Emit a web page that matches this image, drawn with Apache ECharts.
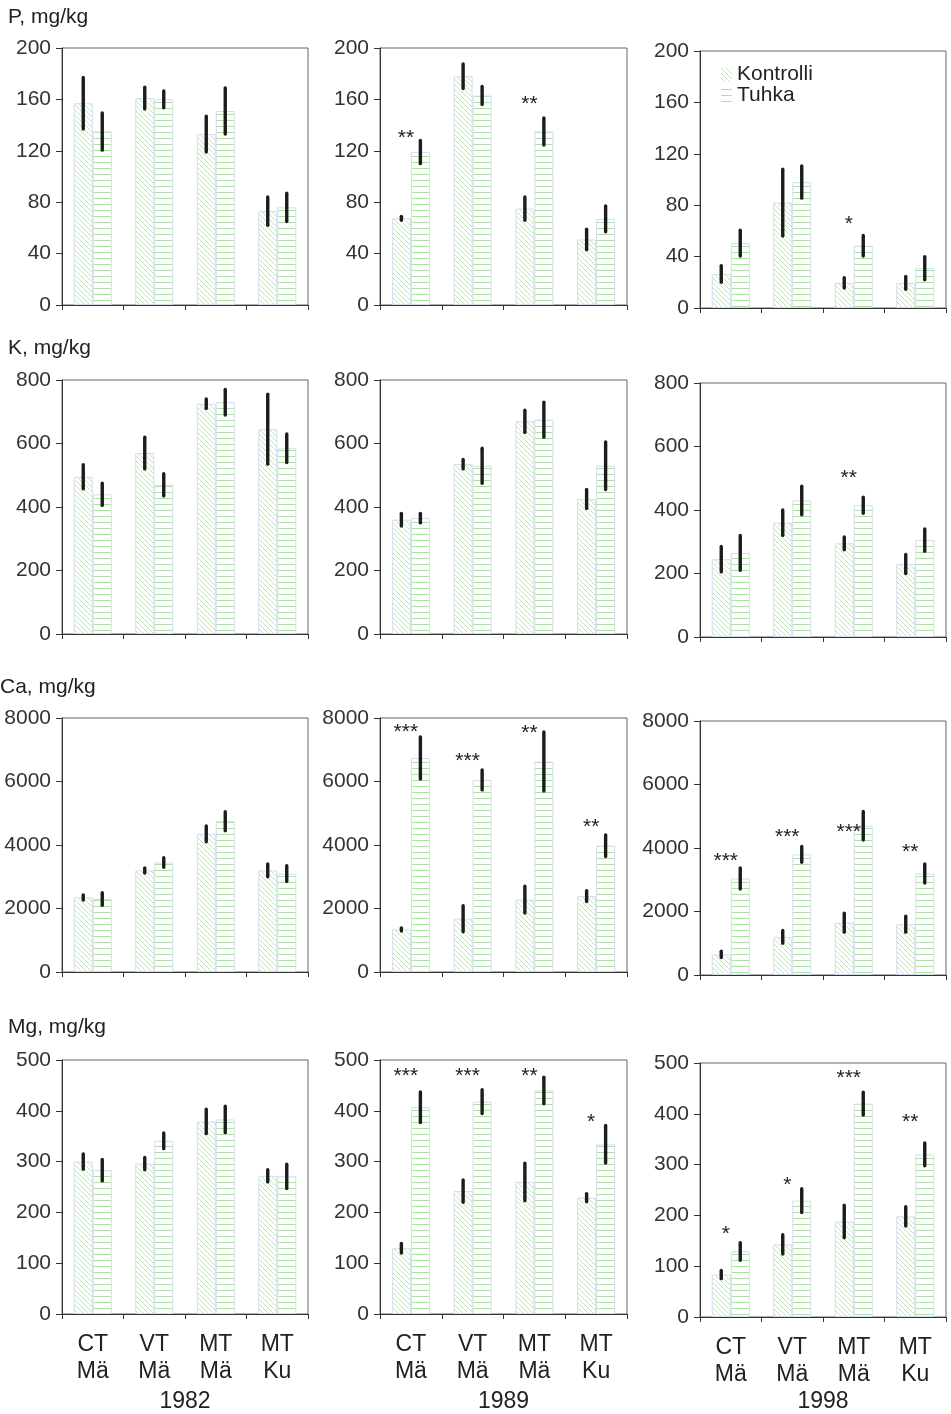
<!DOCTYPE html>
<html>
<head>
<meta charset="utf-8">
<script src="https://cdn.jsdelivr.net/npm/echarts/dist/echarts.min.js"></script>
<style>
  html, body { margin: 0; padding: 0; background: #fff; }
  #chart { width: 951px; height: 1414px; }
</style>
</head>
<body>
<div id="chart"></div>
<script>
// Soil nutrient concentrations (mg/kg), control vs. ash-treated plots, three sampling years.
const categories = ['CT\nMä', 'VT\nMä', 'MT\nMä', 'MT\nKu'];
const years = ['1982', '1989', '1998'];

// Phosphorus: one row per year (1982, 1989, 1998)
const pKontrolli    = [[157, 161, 133, 73], [67.5, 178, 75, 51], [26.5, 82, 19.5, 19.5]];
const pKontrolliErr = [[20, 8.5, 14, 11], [1.5, 9.5, 9, 8], [6.5, 26, 4, 5]];
const pTuhka        = [[135, 160, 151, 76], [119, 163, 135, 67], [50.5, 98, 48.5, 31]];
const pTuhkaErr     = [[14.5, 6.5, 18, 11], [9, 7, 10.5, 10], [10, 12.5, 8, 9]];
const pStars        = [['', '', '', ''], ['**', '', '**', ''], ['', '', '*', '']];
const pStarLevel    = [[0, 0, 0, 0], [134, 0, 160, 0], [0, 0, 69, 0]];

// Potassium
const kKontrolli    = [[495, 570, 725, 645], [360, 535, 670, 425], [245, 360, 295, 230]];
const kKontrolliErr = [[38, 50, 15, 110], [20, 15, 35, 30], [40, 40, 20, 30]];
const kTuhka        = [[440, 470, 730, 585], [365, 530, 675, 530], [265, 430, 415, 305]];
const kTuhkaErr     = [[35, 35, 40, 45], [15, 55, 55, 75], [55, 45, 25, 35]];
const kStars        = [['', '', '', ''], ['', '', '', ''], ['', '', '**', '']];
const kStarLevel    = [[0, 0, 0, 0], [0, 0, 0, 0], [0, 0, 516, 0]];

// Calcium
const caKontrolli    = [[2350, 3200, 4350, 3200], [1340, 1680, 2280, 2390], [650, 1200, 1650, 1600]];
const caKontrolliErr = [[80, 80, 250, 200], [50, 410, 425, 170], [100, 200, 300, 250]];
const caTuhka        = [[2300, 3450, 4750, 3100], [6740, 6050, 6630, 3980], [3040, 3800, 4700, 3200]];
const caTuhkaErr     = [[200, 150, 300, 250], [665, 315, 930, 340], [330, 250, 450, 300]];
const caStars        = [['', '', '', ''], ['***', '***', '**', '**'], ['***', '***', '***', '**']];
const caStarLevel    = [[0, 0, 0, 0], [7700, 6790, 7670, 4720], [3730, 4510, 4640, 4010]];

// Magnesium
const mgKontrolli    = [[300, 296, 379, 272], [129.5, 242, 260, 229], [83.5, 143, 188, 198]];
const mgKontrolliErr = [[15, 12, 24, 12], [9.5, 22, 37, 8], [8, 19, 32, 19]];
const mgTuhka        = [[283, 341, 383, 271], [407, 418, 440, 334], [129, 229, 420, 320]];
const mgTuhkaErr     = [[21, 15.5, 26, 24], [30, 23.5, 26, 37], [17.5, 23.5, 22.5, 22.5]];
const mgStars        = [['', '', '', ''], ['***', '***', '**', '*'], ['*', '*', '***', '**']];
const mgStarLevel    = [[0, 0, 0, 0], [477, 477, 477, 387], [172, 269, 479, 393]];

const rows = [
  { title: 'P, mg/kg',  max: 200,  step: 40,   km: pKontrolli,  ke: pKontrolliErr,  tm: pTuhka,  te: pTuhkaErr,  st: pStars,  sl: pStarLevel },
  { title: 'K, mg/kg',  max: 800,  step: 200,  km: kKontrolli,  ke: kKontrolliErr,  tm: kTuhka,  te: kTuhkaErr,  st: kStars,  sl: kStarLevel },
  { title: 'Ca, mg/kg', max: 8000, step: 2000, km: caKontrolli, ke: caKontrolliErr, tm: caTuhka, te: caTuhkaErr, st: caStars, sl: caStarLevel },
  { title: 'Mg, mg/kg', max: 500,  step: 100,  km: mgKontrolli, ke: mgKontrolliErr, tm: mgTuhka, te: mgTuhkaErr, st: mgStars, sl: mgStarLevel }
];

// Layout of the 4 x 3 panel matrix (pixels)
const FONT = '"Liberation Sans", Arial, Helvetica, sans-serif';
const colLeft = [62, 380, 700];
const colWidth = [246, 247, 246];
const colShift = [0, 0, 3];
const rowTop = [48, 380, 718, 1060];
const rowBottom = [305, 634, 972, 1319];
const titleTop = [7, 338, 677, 1017];
const titleLeft = [8, 8, 0, 8];
const BAR_W = 19;

// Hatch fills: diagonal for control, horizontal for ash
function makeHatch(kind) {
  const c = document.createElement('canvas');
  const ctx = c.getContext('2d');
  if (kind === 'diag') {
    const s = 5;
    c.width = s; c.height = s;
    ctx.fillStyle = '#ffffff';
    ctx.fillRect(0, 0, s, s);
    ctx.strokeStyle = '#bfe6b6';
    ctx.lineWidth = 1;
    for (let k = -1; k <= 1; k++) {
      ctx.beginPath();
      ctx.moveTo(-s, -s + k * s);
      ctx.lineTo(2 * s, 2 * s + k * s);
      ctx.stroke();
    }
  } else {
    c.width = 4; c.height = 6;
    ctx.fillStyle = '#ffffff';
    ctx.fillRect(0, 0, 4, 6);
    ctx.fillStyle = '#ace0a4';
    ctx.fillRect(0, 0, 4, 1);
  }
  return { image: c, repeat: 'repeat' };
}
const diagFill = makeHatch('diag');
const horizFill = makeHatch('horiz');

function renderErrorBars(params, api) {
  const i = api.value(0);
  const children = [];
  [[1, 2, -1], [3, 4, 1]].forEach(function (d) {
    const m = api.value(d[0]);
    const e = api.value(d[1]);
    const x = api.coord([i, m])[0] + d[2] * BAR_W / 2;
    const y1 = api.coord([i, m + e])[1];
    const y2 = api.coord([i, m - e])[1];
    children.push({
      type: 'line',
      shape: { x1: x, y1: y1, x2: x, y2: y2 },
      style: { stroke: '#1c1c1c', lineWidth: 3.4, lineCap: 'round' }
    });
  });
  return { type: 'group', children: children };
}

const grids = [], xAxes = [], yAxes = [], series = [], titles = [];

rows.forEach(function (row, r) {
  titles.push({
    text: row.title, left: titleLeft[r], top: titleTop[r], padding: 0,
    textStyle: { fontFamily: FONT, fontSize: 21, fontWeight: 'normal', color: '#222' }
  });
  for (let c = 0; c < 3; c++) {
    const g = grids.length;
    const top = rowTop[r] + colShift[c];
    const bottom = rowBottom[r] + colShift[c];
    grids.push({
      left: colLeft[c], top: top, width: colWidth[c], height: bottom - top,
      show: true, borderColor: '#666', borderWidth: 1, backgroundColor: 'transparent'
    });
    const lastRow = r === rows.length - 1;
    xAxes.push({
      type: 'category', gridIndex: g, data: categories,
      axisLine: { lineStyle: { color: '#333', width: 1 } },
      axisTick: { show: true, length: 5, lineStyle: { color: '#333' } },
      axisLabel: {
        show: lastRow, interval: 0, margin: 17,
        fontFamily: FONT, fontSize: 23, lineHeight: 27, color: '#222'
      },
      name: lastRow ? years[c] : '',
      nameLocation: 'middle', nameGap: 76 - colShift[c],
      nameTextStyle: { fontFamily: FONT, fontSize: 23, color: '#222' }
    });
    yAxes.push({
      type: 'value', gridIndex: g, min: 0, max: row.max, interval: row.step,
      axisLine: { show: true, lineStyle: { color: '#333', width: 1 } },
      axisTick: { show: true, length: 6, lineStyle: { color: '#333' } },
      splitLine: { show: false },
      axisLabel: {
        margin: 11, fontFamily: FONT, fontSize: 21, color: '#333',
        formatter: function (v) { return String(v); }
      }
    });
    series.push({
      type: 'bar', name: 'Kontrolli', xAxisIndex: g, yAxisIndex: g,
      data: row.km[c], barWidth: BAR_W, barGap: '0%', silent: true,
      itemStyle: { color: diagFill, borderColor: '#d5dcec', borderWidth: 1 }
    });
    series.push({
      type: 'bar', name: 'Tuhka', xAxisIndex: g, yAxisIndex: g,
      data: row.tm[c], barWidth: BAR_W, barGap: '0%', silent: true,
      itemStyle: { color: horizFill, borderColor: '#d5dcec', borderWidth: 1 }
    });
    series.push({
      type: 'custom', name: 'virhe', xAxisIndex: g, yAxisIndex: g, silent: true, z: 4,
      renderItem: renderErrorBars,
      data: row.km[c].map(function (m, i) {
        return [i, m, row.ke[c][i], row.tm[c][i], row.te[c][i]];
      })
    });
    const starText = [], starData = [];
    row.st[c].forEach(function (s, i) {
      if (s) { starText.push(s); starData.push([i, row.sl[c][i]]); }
    });
    if (starData.length) {
      series.push({
        type: 'custom', name: 'merkitsevyys', xAxisIndex: g, yAxisIndex: g, silent: true, z: 5,
        data: starData,
        renderItem: function (params, api) {
          const p = api.coord([api.value(0), api.value(1)]);
          return {
            type: 'text', x: p[0] - 5, y: p[1] + 5,
            style: {
              text: starText[params.dataIndex], fontFamily: FONT, fontSize: 21,
              fill: '#222', align: 'center', verticalAlign: 'middle'
            }
          };
        }
      });
    }
  }
});

const chart = echarts.init(document.getElementById('chart'));
chart.setOption({
  backgroundColor: '#ffffff',
  animation: false,
  title: titles,
  legend: {
    data: ['Kontrolli', 'Tuhka'],
    orient: 'vertical', left: 716, top: 59,
    itemWidth: 11, itemHeight: 13, itemGap: 0,
    icon: 'rect', selectedMode: false,
    itemStyle: { borderWidth: 0 },
    textStyle: { fontFamily: FONT, fontSize: 21, color: '#222' }
  },
  grid: grids,
  xAxis: xAxes,
  yAxis: yAxes,
  series: series
});
</script>
</body>
</html>
